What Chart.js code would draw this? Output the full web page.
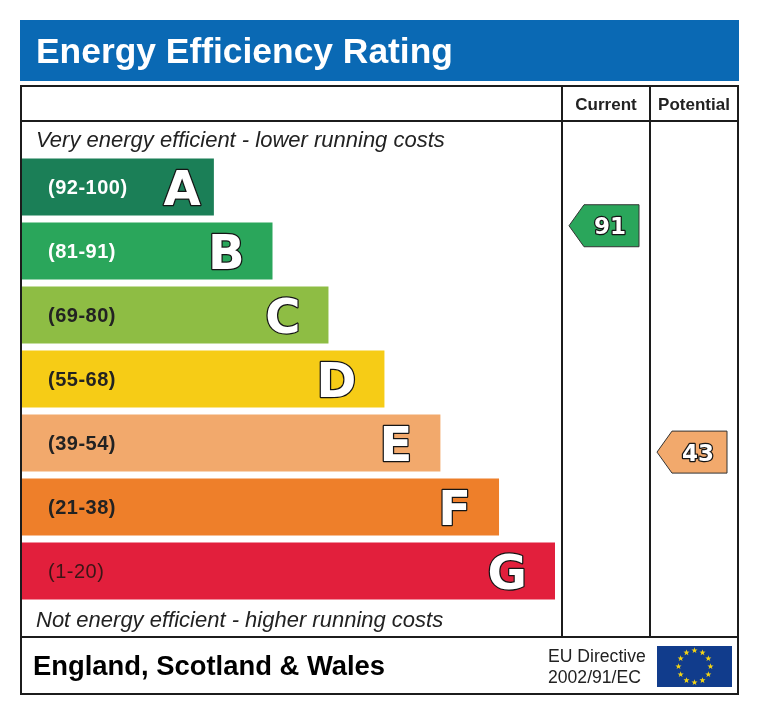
<!DOCTYPE html>
<html>
<head>
<meta charset="utf-8">
<script src="https://cdn.jsdelivr.net/npm/chart.js@4.4.1/dist/chart.umd.min.js"></script>
<style>
  html, body { margin: 0; padding: 0; background: #fff; }
  #wrap { width: 760px; height: 715px; }
</style>
</head>
<body>
<div id="wrap"><canvas id="epc" width="760" height="715"></canvas></div>
<script>
// ===== EPC — ENERGY EFFICIENCY RATING =====

// Data
const bandLetters = ['A', 'B', 'C', 'D', 'E', 'F', 'G'];
const bandRanges = ['(92-100)', '(81-91)', '(69-80)', '(55-68)', '(39-54)', '(21-38)', '(1-20)'];
const bandMin = [92, 81, 69, 55, 39, 21, 1];
const bandLength = [36, 47, 57.5, 68, 78.5, 89.5, 100];   // relative bar length, G = 100
const currentRating = 91;
const potentialRating = 43;

// Styles
const bandColors = ['#1b7f57', '#2aa65b', '#8ebd44', '#f6cc16', '#f2a96c', '#ee7f2a', '#e21f3c'];
const rangeColors = ['#ffffff', '#ffffff', '#222222', '#222222', '#222222', '#222222', '#3a1616'];
const rangeWeight = ['bold', 'bold', 'bold', 'bold', 'bold', 'bold', 'normal'];
const SANS = '"Liberation Sans", Arial, sans-serif';
const LINE = '#1c1c1c';

// Table frame
const T = { left: 21, right: 738, top: 86, head: 121, foot: 637, bottom: 694, col1: 562, col2: 650 };

function bandColorFor(score) {
    const i = bandMin.findIndex(m => score >= m);
    return bandColors[i < 0 ? bandColors.length - 1 : i];
}

function star(ctx, cx, cy, ro, ri) {
    ctx.beginPath();
    for (let k = 0; k < 10; k++) {
        const r = k % 2 ? ri : ro;
        const a = -Math.PI / 2 + k * Math.PI / 5;
        ctx.lineTo(cx + r * Math.cos(a), cy + r * Math.sin(a));
    }
    ctx.closePath();
    ctx.fill();
}

function outlinedText(ctx, text, x, y, lw) {
    ctx.lineJoin = 'round';
    ctx.lineWidth = lw;
    ctx.strokeStyle = '#151515';
    ctx.strokeText(text, x, y);
    ctx.fillStyle = '#ffffff';
    ctx.fillText(text, x, y);
}

// Frame, header, captions (behind bars)
const framePlugin = {
    id: 'frame',
    beforeDraw(chart) {
        const ctx = chart.ctx;
        ctx.save();
        ctx.fillStyle = '#ffffff';
        ctx.fillRect(0, 0, chart.width, chart.height);

        // blue title bar
        ctx.fillStyle = '#0a69b4';
        ctx.fillRect(20, 20, 719, 61);
        ctx.fillStyle = '#ffffff';
        ctx.font = 'bold 35.4px ' + SANS;
        ctx.textBaseline = 'alphabetic';
        ctx.textAlign = 'left';
        ctx.fillText('Energy Efficiency Rating', 36, 63);

        // table lines
        ctx.strokeStyle = LINE;
        ctx.lineWidth = 2;
        ctx.strokeRect(T.left, T.top, T.right - T.left, T.bottom - T.top);
        ctx.beginPath();
        ctx.moveTo(T.left, T.head); ctx.lineTo(T.right, T.head);
        ctx.moveTo(T.left, T.foot); ctx.lineTo(T.right, T.foot);
        ctx.moveTo(T.col1, T.top); ctx.lineTo(T.col1, T.foot);
        ctx.moveTo(T.col2, T.top); ctx.lineTo(T.col2, T.foot);
        ctx.stroke();

        // column headings
        ctx.fillStyle = '#222';
        ctx.font = 'bold 17px ' + SANS;
        ctx.textAlign = 'center';
        ctx.fillText('Current', (T.col1 + T.col2) / 2, 110);
        ctx.fillText('Potential', (T.col2 + T.right) / 2, 110);

        // efficiency captions
        ctx.textAlign = 'left';
        ctx.font = 'italic 22px ' + SANS;
        ctx.fillText('Very energy efficient - lower running costs', 36, 147);
        ctx.fillText('Not energy efficient - higher running costs', 36, 627);

        // footer
        ctx.fillStyle = '#000';
        ctx.font = 'bold 27.4px ' + SANS;
        ctx.fillText('England, Scotland & Wales', 33, 675);
        ctx.fillStyle = '#222';
        ctx.font = '17.6px ' + SANS;
        ctx.fillText('EU Directive', 548, 662);
        ctx.fillText('2002/91/EC', 548, 683);

        // EU flag
        ctx.fillStyle = '#113c8c';
        ctx.fillRect(657, 646, 75, 41);
        ctx.fillStyle = '#f3d416';
        for (let k = 0; k < 12; k++) {
            const a = k * Math.PI / 6;
            star(ctx, 694.5 + 16 * Math.cos(a), 666.5 + 16 * Math.sin(a), 3.2, 1.3);
        }
        ctx.restore();
    },

    // range labels, letters and rating arrows (over bars)
    afterDatasetsDraw(chart) {
        const ctx = chart.ctx;
        const meta = chart.getDatasetMeta(0);
        ctx.save();
        ctx.textBaseline = 'alphabetic';
        meta.data.forEach((bar, i) => {
            const left = bar.base;
            const right = bar.x;
            const cy = bar.y;

            ctx.font = rangeWeight[i] + ' 20px ' + SANS;
            ctx.letterSpacing = '0.5px';
            ctx.fillStyle = rangeColors[i];
            ctx.textAlign = 'left';
            ctx.fillText(bandRanges[i], left + 26, cy + 7);
            const rangeEnd = left + 26 + ctx.measureText(bandRanges[i]).width;
            ctx.letterSpacing = '0px';

            ctx.font = 'bold 48px "DejaVu Sans", sans-serif';
            const w = ctx.measureText(bandLetters[i]).width;
            const letterRight = Math.max(right - 28, rangeEnd + 36 + w);
            ctx.textAlign = 'right';
            outlinedText(ctx, bandLetters[i], letterRight, cy + 17.5, 2.5);
        });

        const score = chart.scales.score;
        const arrows = [
            { value: currentRating, colLeft: T.col1 },
            { value: potentialRating, colLeft: T.col2 }
        ];
        arrows.forEach(a => {
            const y = score.getPixelForValue(a.value);
            const x0 = a.colLeft + 7;
            const h = 21;
            ctx.beginPath();
            ctx.moveTo(x0, y);
            ctx.lineTo(x0 + 15, y - h);
            ctx.lineTo(x0 + 70, y - h);
            ctx.lineTo(x0 + 70, y + h);
            ctx.lineTo(x0 + 15, y + h);
            ctx.closePath();
            ctx.fillStyle = bandColorFor(a.value);
            ctx.fill();
            ctx.lineWidth = 1;
            ctx.strokeStyle = '#333';
            ctx.stroke();

            ctx.font = 'bold 23px "DejaVu Sans", Verdana, sans-serif';
            ctx.textAlign = 'center';
            outlinedText(ctx, String(a.value), x0 + 41, y + 8.5, 2.5);
        });
        ctx.restore();
    }
};

new Chart(document.getElementById('epc').getContext('2d'), {
    type: 'bar',
    data: {
        labels: bandLetters,
        datasets: [{
            data: bandLength,
            backgroundColor: bandColors,
            borderWidth: 0,
            categoryPercentage: 1.0,
            barPercentage: 0.89
        }]
    },
    plugins: [framePlugin],
    options: {
        indexAxis: 'y',
        responsive: false,
        animation: false,
        layout: { padding: { left: 22, right: 205, top: 155, bottom: 112 } },
        scales: {
            x: { type: 'linear', min: 0, max: 100, display: false },
            y: { type: 'category', display: false, offset: true },
            score: { type: 'linear', axis: 'y', position: 'right', min: 11, max: 106, offset: false, display: false }
        },
        plugins: {
            legend: { display: false },
            tooltip: { enabled: false }
        }
    }
});
</script>
</body>
</html>
